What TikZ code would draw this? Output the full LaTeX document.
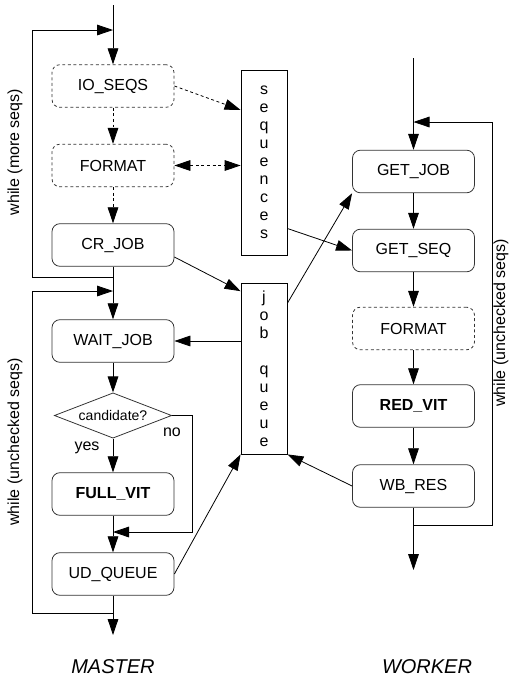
\documentclass[tikz,border=0pt]{standalone}
\usepackage{fontspec}
\setmainfont{Liberation Sans}
\usetikzlibrary{arrows.meta,shapes.geometric}

\begin{document}
\begin{tikzpicture}[x=0.75pt,y=-0.75pt, line width=0.6pt,
    arr/.style={-{Triangle[length=12pt,width=8pt]}},
    dblarr/.style={{Triangle[length=12pt,width=8pt]}-{Triangle[length=12pt,width=8pt]}},
    dotline/.style={dash pattern=on 2.2pt off 2pt},
    proc/.style={draw=black!80, rounded corners=6pt, minimum width=91.5pt, minimum height=32pt, font=\fontsize{12}{14}\selectfont},
    dproc/.style={proc, dotline},
    store/.style={draw, minimum width=34.5pt, inner sep=2pt, align=center, font=\fontsize{12}{13.5}\selectfont},
    lbl/.style={font=\fontsize{12}{14}\selectfont}]

                \useasboundingbox (0,0) rectangle (510,676);

                %% master
                \node[dproc] (ioseqs) at (113,86) {IO\_SEQS};
                \node[dproc] (mformat) at (113,165.5) {FORMAT};
                \node[proc] (crjob) at (113,245) {CR\_JOB};
                \node[proc] (waitjob) at (113,341) {WAIT\_JOB};
                \node[draw=black!80, diamond, aspect=2.6, minimum width=88pt, minimum height=34pt, inner sep=0pt, font=\fontsize{10.5}{12}\selectfont] (cand) at (113,415.5) {candidate?};
                \node[proc, font=\fontsize{12}{14}\selectfont\bfseries] (fullvit) at (113,494) {FULL\_VIT};
                \node[proc] (udqueue) at (113,574) {UD\_QUEUE};

                \coordinate (mtop) at (113,5);
                \coordinate (mloopa) at (113,30);
                \coordinate (mloopb) at (113,277);
                \coordinate (mloopc) at (113,291);
                \coordinate (mloopd) at (113,613);
                \coordinate (nojoin) at (113,532);
                \coordinate (mend) at (113,635);

                \draw[arr] (mtop) -- (ioseqs);
                \draw[arr, dotline] (ioseqs) -- (mformat);
                \draw[arr, dotline] (mformat) -- (crjob);
                \draw[arr] (crjob) -- (waitjob);
                \draw[arr] (mloopb) -- ++(-81,0) |- (mloopa);
                \draw[arr] (mloopd) -- ++(-81,0) |- (mloopc);
                \draw[arr] (waitjob) -- (cand);
                \draw[arr] (cand) -- (fullvit);
                \draw[arr] (cand.east) -- ++(20,0) |- (nojoin);
                \draw[arr] (fullvit) -- (udqueue);
                \draw[arr] (udqueue) -- (mend);

                \node[lbl, rotate=90] (mwhilea) at (15,152) {while (more seqs)};
                \node[lbl, rotate=90] (mwhileb) at (15,442) {while (unchecked seqs)};
                \node[lbl] (yes) at (87,448) {yes};
                \node[lbl] (no) at (172,432) {no};
                \node[font=\fontsize{15}{18}\selectfont\itshape] (master) at (113,667) {MASTER};

                %% shared
                \node[store, minimum height=138.75pt] (seqs) at (264,162.5) {s\\e\\q\\u\\e\\n\\c\\e\\s};
                \node[store, minimum height=128.25pt] (jobq) at (264,368.5) {j\\o\\b\\\mbox{}\\q\\u\\e\\u\\e};

                %% worker
                \node[proc] (getjob) at (413.5,171.5) {GET\_JOB};
                \node[proc] (getseq) at (413.5,250.5) {GET\_SEQ};
                \node[dproc] (wformat) at (413.5,328.5) {FORMAT};
                \node[proc, font=\fontsize{12}{14}\selectfont\bfseries] (redvit) at (413.5,406) {RED\_VIT};
                \node[proc] (wbres) at (413.5,486) {WB\_RES};

                \coordinate (wtop) at (413.5,58);
                \coordinate (wloopa) at (413.5,122);
                \coordinate (wloopb) at (413.5,525);
                \coordinate (wend) at (413.5,570);

                \draw[arr] (wtop) -- (getjob);
                \draw[arr] (getjob) -- (getseq);
                \draw[arr] (getseq) -- (wformat);
                \draw[arr] (wformat) -- (redvit);
                \draw[arr] (redvit) -- (wbres);
                \draw[arr] (wbres) -- (wend);
                \draw[arr] (wloopb) -- ++(78.5,0) |- (wloopa);

                \node[lbl, rotate=90, inner sep=1pt] (wwhile) at (501,323) {while (unchecked seqs)};
                \node[font=\fontsize{15}{18}\selectfont\itshape] (worker) at (427,667) {WORKER};

                %% data flow
                \draw[arr, dotline] (ioseqs.east) -- ([yshift=39.4pt]seqs.west);
                \draw[dblarr, dotline] (mformat.east) -- (mformat.east -| seqs.west);
                \draw[arr] ([yshift=-9pt]crjob.east) -- ([yshift=58pt]jobq.west);
                \draw[arr] (waitjob.east -| jobq.west) -- (waitjob.east);
                \draw[arr] (udqueue.east) -- (jobq.south west);
                \draw[arr] ([yshift=49pt]jobq.east) -- (getjob.south west);
                \draw[arr] ([yshift=-49.5pt]seqs.east) -- (getseq.west);
                \draw[arr] (wbres.west) -- (jobq.south east);

            \end{tikzpicture}
\end{document}
